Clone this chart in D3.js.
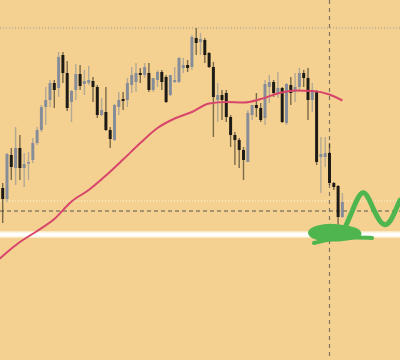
<!DOCTYPE html>
<html>
<head>
<meta charset="utf-8">
<script src="https://cdn.jsdelivr.net/npm/d3@7.9.0/dist/d3.min.js"></script>
<style>
  html, body { margin: 0; padding: 0; background: #f4d190; }
  svg { display: block; }
</style>
</head>
<body>
<svg id="chart" width="400" height="360"></svg>
<script>
// candle data (price units, bigger = higher)
const opens  = [172,161,205,192,212,192,197,200,217,230,253,260,277,272,305,287,258,270,286,276,
                277,279,273,245,248,230,220,253,261,260,275,278,287,285,287,270,280,288,283,265,
                278,278,292,295,293,322,318,320,307,293,260,265,267,243,225,220,210,198,245,255,
                252,242,273,278,267,272,237,275,268,273,287,282,260,268,203,203,207,177,174,143];
const highs  = [177,207,212,233,225,207,208,222,233,255,273,280,280,308,308,299,270,296,295,290,
                294,283,275,262,273,233,256,268,268,282,293,297,292,297,297,282,290,290,285,285,
                293,303,302,300,325,332,327,322,308,298,277,270,270,245,228,222,213,250,255,267,
                257,280,285,280,288,273,277,283,287,292,290,292,277,270,223,223,217,178,175,167];
const lows   = [137,158,180,175,180,173,180,197,215,228,235,253,252,263,277,249,238,260,270,265,
                275,258,242,244,229,212,219,245,250,253,267,268,277,282,268,268,273,270,257,264,
                277,277,287,288,290,305,305,297,292,223,238,240,238,213,195,192,180,198,240,243,
                238,235,257,263,262,237,235,255,258,270,273,240,248,195,167,193,175,170,128,142];
const closes = [161,206,193,212,192,196,198,217,230,253,260,277,270,303,287,252,269,286,274,279,
                280,273,245,250,230,221,255,260,259,277,285,287,285,293,270,282,288,278,258,285,
                280,302,295,292,323,317,321,305,293,263,265,260,243,225,220,210,200,247,255,252,
                240,276,278,267,272,238,276,267,273,287,282,260,270,198,206,207,177,173,143,158];

// moving average, read at a few candle indexes
const maIndex = [-1, 0, 4, 8, 12, 16, 20, 24, 28, 32, 36, 40, 44, 48, 52, 56, 60, 64, 68, 72, 76, 79];
const maValue = [100, 104, 118, 129, 141, 158.5, 170, 184.5, 200.5, 217, 232, 241.5, 248, 256.5,
                 258, 257.5, 261, 266.5, 269.5, 269, 265.5, 259.5];

// reference levels
const topLevel = 332;
const dashLevel = 149;
const faintLevel = 159;
const supportLevel = 125.5;
const markerIndex = 76;

// hand drawn green projection (index, price)
const waveIndex = [79.6, 81.2, 82.6, 83.8, 84.9, 86.3, 87.7, 88.9, 90.1, 91.2, 92.4];
const waveValue = [132, 148, 163, 169, 164, 150, 138, 134, 138, 148, 160];
const blobIndex = [70.8, 73.3, 76.1, 79.6, 82.8, 83.4, 79.6, 76.1, 72.4];
const blobValue = [128, 133, 135, 133, 130, 124, 121, 120, 122];
const tailIndex = [72.4, 76.1, 80.7, 85.9];
const tailValue = [117, 121, 123, 122];

const width = 400, height = 360;
const svg = d3.select('#chart');

const x = d3.scaleLinear().domain([0, 79]).range([2.7, 342.4]);
const y = d3.scaleLinear().domain([0, 360]).range([height, 0]);

svg.append('rect').attr('width', width).attr('height', height).attr('fill', '#f4d190');

// horizontal levels
svg.append('line')
  .attr('x1', 0).attr('x2', width)
  .attr('y1', y(topLevel)).attr('y2', y(topLevel))
  .attr('stroke', '#9a9a9a').attr('stroke-width', 1).attr('stroke-dasharray', '1,2');

svg.append('line')
  .attr('x1', 0).attr('x2', width)
  .attr('y1', y(faintLevel)).attr('y2', y(faintLevel))
  .attr('stroke', '#fff6e4').attr('stroke-width', 1).attr('stroke-dasharray', '1,2');

svg.append('line')
  .attr('x1', 0).attr('x2', width)
  .attr('y1', y(dashLevel)).attr('y2', y(dashLevel))
  .attr('stroke', '#5a5550').attr('stroke-width', 1).attr('stroke-dasharray', '4,3');

svg.append('line')
  .attr('x1', 0).attr('x2', width)
  .attr('y1', y(supportLevel)).attr('y2', y(supportLevel))
  .attr('stroke', '#fbe8c4').attr('stroke-width', 7);
svg.append('line')
  .attr('x1', 0).attr('x2', width)
  .attr('y1', y(supportLevel)).attr('y2', y(supportLevel))
  .attr('stroke', '#ffffff').attr('stroke-width', 4);

// vertical marker
svg.append('line')
  .attr('x1', x(markerIndex)).attr('x2', x(markerIndex))
  .attr('y1', 0).attr('y2', height)
  .attr('stroke', '#7a7266').attr('stroke-width', 1.2).attr('stroke-dasharray', '4,4');

// candles
const candles = opens.map((o, i) => ({ i, o, h: highs[i], l: lows[i], c: closes[i] }));
const bull = '#7e889a', bear = '#161412';

const g = svg.append('g');
g.selectAll('line.wick')
  .data(candles)
  .join('line')
  .attr('class', 'wick')
  .attr('x1', d => x(d.i)).attr('x2', d => x(d.i))
  .attr('y1', d => y(d.h)).attr('y2', d => y(d.l))
  .attr('stroke', d => d.c >= d.o ? bull : bear)
  .attr('stroke-opacity', 0.55)
  .attr('stroke-width', 1.4);

g.selectAll('rect.body')
  .data(candles)
  .join('rect')
  .attr('class', 'body')
  .attr('x', d => x(d.i) - 1.5)
  .attr('width', 3)
  .attr('y', d => y(Math.max(d.o, d.c)))
  .attr('height', d => Math.max(1.5, Math.abs(y(d.o) - y(d.c))))
  .attr('fill', d => d.c >= d.o ? bull : bear)
  .attr('fill-opacity', d => d.c >= d.o ? 0.9 : 0.95);

// moving average
const maLine = d3.line()
  .x(d => x(d[0]))
  .y(d => y(d[1]))
  .curve(d3.curveMonotoneX);

svg.append('path')
  .datum(d3.zip(maIndex, maValue))
  .attr('d', maLine)
  .attr('fill', 'none')
  .attr('stroke', '#d8456c')
  .attr('stroke-width', 2);

// green sketch
const green = '#4fb64f';
const sketch = d3.line().x(d => x(d[0])).y(d => y(d[1])).curve(d3.curveBasis);

svg.append('path')
  .datum(d3.zip(blobIndex, blobValue))
  .attr('d', d3.line().x(d => x(d[0])).y(d => y(d[1])).curve(d3.curveBasisClosed))
  .attr('fill', green)
  .attr('stroke', green)
  .attr('stroke-width', 4);

svg.append('path')
  .datum(d3.zip(tailIndex, tailValue))
  .attr('d', sketch)
  .attr('fill', 'none')
  .attr('stroke', green)
  .attr('stroke-width', 4)
  .attr('stroke-linecap', 'round');

svg.append('path')
  .datum(d3.zip(waveIndex, waveValue))
  .attr('d', sketch)
  .attr('fill', 'none')
  .attr('stroke', green)
  .attr('stroke-width', 5)
  .attr('stroke-linecap', 'round');
</script>
</body>
</html>
